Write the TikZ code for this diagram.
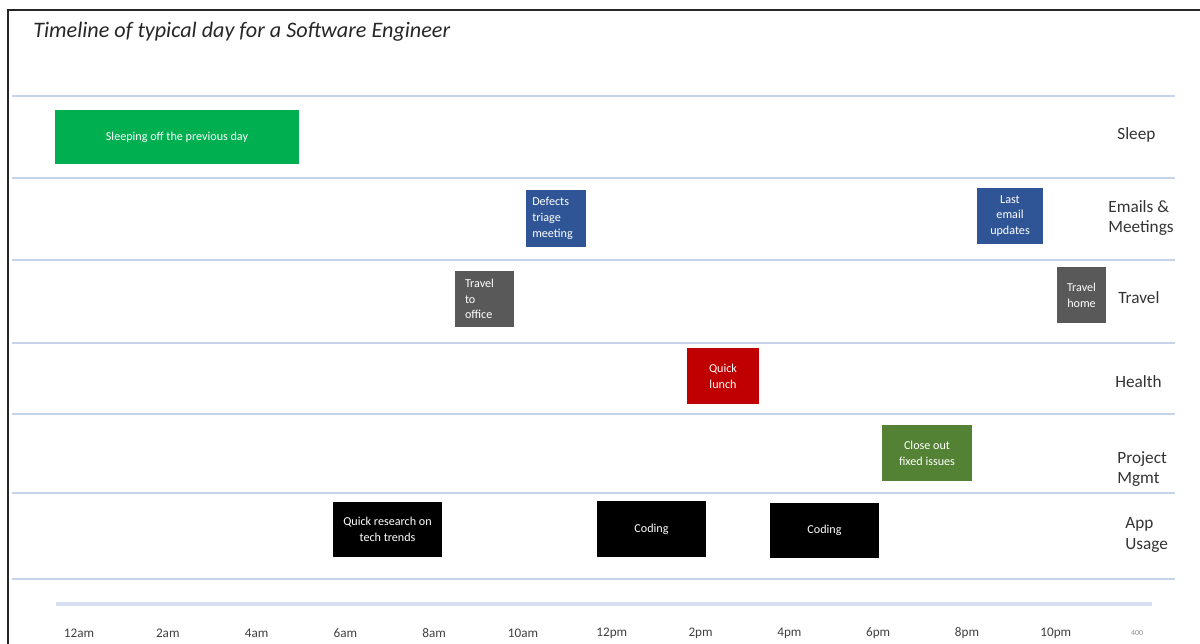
\documentclass[tikz,border=0pt]{standalone}
\usepackage{fontspec}
\setmainfont{Carlito}
\usepackage{xcolor}
\usetikzlibrary{positioning}
\definecolor{sleepgreen}{HTML}{00B050}
\definecolor{meetblue}{HTML}{2F5597}
\definecolor{travelgray}{HTML}{595959}
\definecolor{lunchred}{HTML}{C00000}
\definecolor{mgmtgreen}{HTML}{548235}
\definecolor{rowblue}{HTML}{C5D3EC}
\definecolor{axisblue}{HTML}{D6E0F2}
\tikzset{
  evt/.style={draw=none, text=white, font=\fontsize{6.9}{9}\selectfont, inner sep=2pt, align=center},
  rowline/.style={color=rowblue, line width=1.1pt},
  lane/.style={font=\fontsize{9.8}{11.5}\selectfont, text=black!80, anchor=west, align=left, inner sep=0pt},
  hour/.style={font=\fontsize{7.5}{9}\selectfont, text=black!75, inner sep=0pt}
}

\begin{document}
\begin{tikzpicture}[x=0.02cm,y=-0.02cm]
  \useasboundingbox (0,0) rectangle (1200,644);
  \draw[line width=1.2pt, color=black!85] (8,644) -- (8,10) -- (1200,10);
  \node[anchor=west, inner sep=0pt, text=black!85, font=\fontsize{12.6}{15}\selectfont\itshape] (title) at (33,32) {Timeline of typical day for a Software Engineer};
  \foreach \y in {96,178,260,343,414,493,579}
    \draw[rowline] (12,\y) -- (1175,\y);
  \draw[color=axisblue, line width=1.8pt] (56,604) -- (1152,604);
  \foreach \t [count=\i from 0] in {12am,2am,4am,6am,8am,10am,12pm,2pm,4pm,6pm,8pm,10pm}
    \node[hour] (h\i) at (79+88.8*\i,633) {\t};
  \node[hour, text=black!45, font=\fontsize{4.5}{5}\selectfont] (h12) at (1137,633) {400};

  \node[lane] (sleeplane) at (1117,135) {Sleep};
  \node[lane] (meetlane) at (1108,218) {Emails \&\\Meetings};
  \node[lane] (travellane) at (1118,298) {Travel};
  \node[lane] (healthlane) at (1115,382) {Health};
  \node[lane] (mgmtlane) at (1117,469) {Project\\Mgmt};
  \node[lane] (applane) at (1125,535) {App\\Usage};

  \node[evt, fill=sleepgreen, minimum width=4.88cm, minimum height=1.08cm] (sleep) at (177,137) {Sleeping off the previous day};
  \node[evt, fill=meetblue, minimum width=1.2cm, minimum height=1.14cm, text width=0.95cm, align=left] (triage) at (556,218.5) {Defects\\triage\\meeting};
  \node[evt, fill=meetblue, minimum width=1.32cm, minimum height=1.12cm] (email) at (1010,216) {Last\\email\\updates};
  \node[evt, fill=travelgray, minimum width=1.18cm, minimum height=1.12cm, text width=0.78cm, align=left] (office) at (484.5,299) {Travel\\to\\office};
  \node[evt, fill=travelgray, minimum width=0.98cm, minimum height=1.12cm] (home) at (1081.5,295) {Travel\\home};
  \node[evt, fill=lunchred, minimum width=1.44cm, minimum height=1.12cm] (lunch) at (723,376) {Quick\\lunch};
  \node[evt, fill=mgmtgreen, minimum width=1.8cm, minimum height=1.12cm] (closeout) at (927,453) {Close out\\fixed issues};
  \node[evt, fill=black, minimum width=2.18cm, minimum height=1.1cm] (research) at (387.5,529.5) {Quick research on\\tech trends};
  \node[evt, fill=black, minimum width=2.18cm, minimum height=1.12cm] (coding1) at (651.5,529) {Coding};
  \node[evt, fill=black, minimum width=2.18cm, minimum height=1.1cm] (coding2) at (824.5,530.5) {Coding};
\end{tikzpicture}
\end{document}
